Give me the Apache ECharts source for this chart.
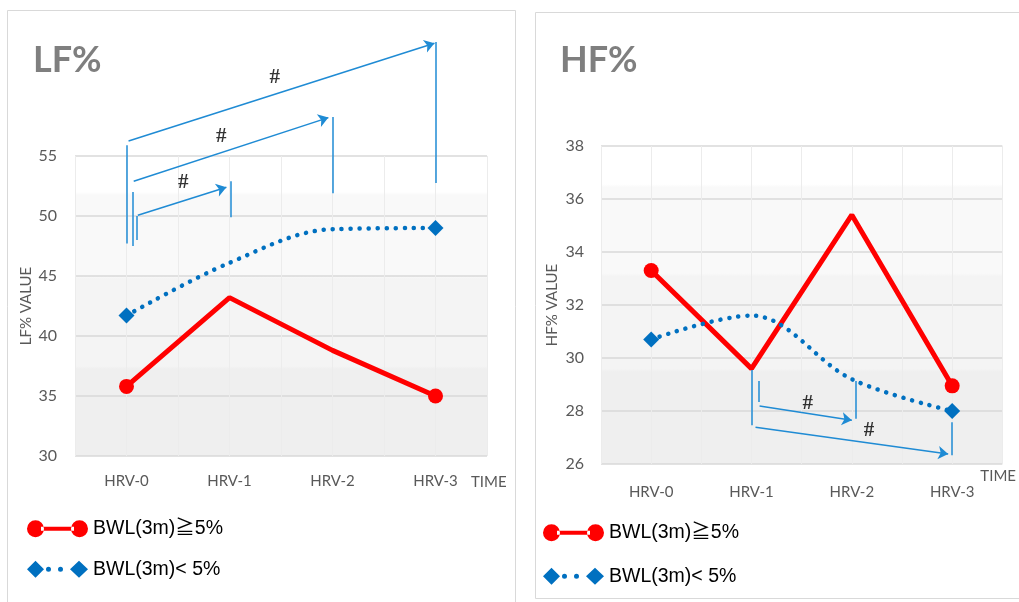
<!DOCTYPE html>
<html>
<head>
<meta charset="utf-8">
<script src="https://cdn.jsdelivr.net/npm/echarts@6/dist/echarts.min.js"></script>
<style>
  html, body { margin: 0; padding: 0; background: #fff; }
  #main { width: 1019px; height: 602px; }
</style>
</head>
<body>
<div id="main"></div>
<script>
var categories = ['HRV-0', 'HRV-1', 'HRV-2', 'HRV-3'];
var seriesNames = ['BWL(3m)≧5%', 'BWL(3m)< 5%'];

// LF% panel
var lfHigh = [35.8, 43.2, 38.8, 35.0];
var lfLow = [41.7, 46.1, 48.9, 49.0];
var lfTicks = [30, 35, 40, 45, 50, 55];

// HF% panel
var hfHigh = [33.3, 29.6, 35.4, 28.95];
var hfLow = [30.7, 31.6, 29.2, 28.0];
var hfTicks = [26, 28, 30, 32, 34, 36, 38];

// markers are only drawn on the first and last visit
var markerIdx = [0, 3];

// significance brackets, in (category index, value) units
var lfBrackets = [
  [[0, 55.9], [0, 47.7]],
  [[0.06, 52.0], [0.06, 47.5]],
  [[0.10, 50.0], [0.10, 48.0]],
  [[1.01, 52.9], [1.01, 49.9]],
  [[2.0, 58.25], [2.0, 51.9]],
  [[3.0, 64.5], [3.0, 52.75]]
];
var lfArrows = [
  [[0.02, 56.25], [2.99, 64.4]],
  [[0.07, 52.9], [1.96, 58.2]],
  [[0.11, 50.06], [0.97, 52.4]]
];
var lfMarks = [[1.44, 61.5], [0.92, 56.6], [0.55, 52.8]];

var hfBrackets = [
  [[1.0, 29.55], [1.0, 27.46]],
  [[1.07, 29.13], [1.07, 28.34]],
  [[2.04, 29.13], [2.04, 27.71]],
  [[3.0, 27.58], [3.0, 26.33]]
];
var hfArrows = [
  [[1.08, 28.19], [2.0, 27.65]],
  [[1.04, 27.39], [2.96, 26.38]]
];
var hfMarks = [[1.56, 28.29], [2.17, 27.28]];

var RED = '#ff0000';
var BLUE = '#0070c0';
var NOTE = '#1f8bd4';
var AXIS_TXT = '#595959';
var FONT = 'Lato, "Noto Sans", sans-serif';

var chart = echarts.init(document.getElementById('main'), null, { renderer: 'canvas' });

function bandBg() {
  return new echarts.graphic.LinearGradient(0, 0, 0, 1, [
    { offset: 0, color: '#ffffff' },
    { offset: 0.12, color: '#ffffff' },
    { offset: 0.13, color: '#f9f9f9' },
    { offset: 0.40, color: '#f9f9f9' },
    { offset: 0.41, color: '#f4f4f4' },
    { offset: 0.70, color: '#f4f4f4' },
    { offset: 0.71, color: '#efefef' },
    { offset: 1, color: '#efefef' }
  ]);
}

function withMarkers(values, symbol) {
  return values.map(function (v, i) {
    return { value: v, symbol: markerIdx.indexOf(i) >= 0 ? symbol : 'none' };
  });
}

// TIME sits below the axis line: an empty first line pushes it down
function catAxis(grid, margin, nameGap, nameLine) {
  return {
    type: 'category',
    gridIndex: grid,
    data: categories,
    boundaryGap: true,
    axisLine: { show: false },
    axisTick: { show: false },
    splitLine: { show: false },
    axisLabel: { margin: margin, fontSize: 15, color: AXIS_TXT, fontFamily: FONT },
    name: '\nTIME',
    nameLocation: 'end',
    nameGap: nameGap,
    nameTextStyle: { fontSize: 15, color: AXIS_TXT, fontFamily: FONT, lineHeight: nameLine }
  };
}

function gridXAxis(grid) {
  // hidden value axis: vertical grid lines every half category, and the
  // coordinate space the annotation arrows are drawn in
  return {
    type: 'value',
    gridIndex: grid,
    min: -0.5,
    max: 3.5,
    interval: 0.5,
    axisLine: { show: false },
    axisTick: { show: false },
    axisLabel: { show: false },
    splitLine: { show: true, lineStyle: { color: '#ececec', width: 1 } }
  };
}

function valAxis(grid, min, max, step, name, margin) {
  return {
    type: 'value',
    gridIndex: grid,
    min: min,
    max: max,
    interval: step,
    axisLine: { show: false },
    axisTick: { show: false },
    axisLabel: { margin: margin, fontSize: 16, color: AXIS_TXT, fontFamily: FONT },
    splitLine: { lineStyle: { color: '#d9d9d9', width: 1.5 } },
    name: name,
    nameLocation: 'middle',
    nameGap: 41,
    nameTextStyle: { fontSize: 15, color: AXIS_TXT, fontFamily: FONT }
  };
}

function lineSeries(name, xi, yi, values, color, dotted) {
  return {
    name: name,
    type: 'line',
    xAxisIndex: xi,
    yAxisIndex: yi,
    data: withMarkers(values, dotted ? 'diamond' : 'circle'),
    smooth: dotted ? 0.35 : false,
    symbolSize: dotted ? 16 : 15,
    itemStyle: { color: color },
    lineStyle: dotted
      ? { color: color, width: 4.5, type: [0.1, 8.9], cap: 'round' }
      : { color: color, width: 5 },
    z: dotted ? 4 : 3,
    animation: false
  };
}

function noteSeries(xi, yi, brackets, arrows, marks) {
  return [
    {
      type: 'lines',
      coordinateSystem: 'cartesian2d',
      xAxisIndex: xi,
      yAxisIndex: yi,
      clip: false,
      symbol: ['none', 'none'],
      lineStyle: { color: NOTE, width: 1.5, opacity: 1 },
      data: brackets.map(function (c) { return { coords: c }; }),
      silent: true,
      animation: false,
      z: 5
    },
    {
      type: 'lines',
      coordinateSystem: 'cartesian2d',
      xAxisIndex: xi,
      yAxisIndex: yi,
      clip: false,
      symbol: ['none', 'arrow'],
      symbolSize: 10,
      lineStyle: { color: NOTE, width: 1.5, opacity: 1 },
      data: arrows.map(function (c) { return { coords: c }; }),
      silent: true,
      animation: false,
      z: 5
    },
    {
      type: 'scatter',
      xAxisIndex: xi,
      yAxisIndex: yi,
      clip: false,
      symbolSize: 1,
      itemStyle: { color: 'rgba(0,0,0,0)' },
      label: {
        show: true,
        position: 'inside',
        formatter: '#',
        color: '#000',
        fontSize: 21,
        fontWeight: 'bold',
        fontFamily: '"Liberation Serif", serif'
      },
      data: marks,
      silent: true,
      animation: false,
      z: 6
    }
  ];
}

var redIcon = 'path://M0,8.5 a8.5,8.5 0 1,0 17,0 a8.5,8.5 0 1,0 -17,0 Z M14,6.5 L47,6.5 L47,10.5 L14,10.5 Z M44,8.5 a8.5,8.5 0 1,0 17,0 a8.5,8.5 0 1,0 -17,0 Z';
var blueIcon = 'path://M0,8.5 L8.5,0 L17,8.5 L8.5,17 Z M19,8.5 a2.5,2.5 0 1,0 5,0 a2.5,2.5 0 1,0 -5,0 Z M31,8.5 a2.5,2.5 0 1,0 5,0 a2.5,2.5 0 1,0 -5,0 Z M43,8.5 L52,0 L61,8.5 L52,17 Z';

function legendAt(left, top, gap) {
  return {
    orient: 'vertical',
    left: left,
    top: top,
    padding: 0,
    itemGap: gap,
    itemWidth: 61,
    itemHeight: 17,
    selectedMode: false,
    itemStyle: { borderWidth: 0 },
    textStyle: { fontSize: 19.5, color: '#000', fontFamily: '"Liberation Sans", "Noto Sans CJK JP", sans-serif' },
    data: [
      { name: seriesNames[0], icon: redIcon },
      { name: seriesNames[1], icon: blueIcon }
    ]
  };
}

var option = {
  backgroundColor: '#fff',
  animation: false,
  title: [
    { text: 'LF%', left: 28, top: 37, textStyle: { fontSize: 36, fontWeight: 'bold', color: '#7f7f7f', fontFamily: FONT } },
    { text: 'HF%', left: 555, top: 37, textStyle: { fontSize: 36, fontWeight: 'bold', color: '#7f7f7f', fontFamily: FONT } }
  ],
  graphic: [
    { type: 'rect', shape: { x: 7.5, y: 10.5, width: 508, height: 600 }, style: { fill: 'none', stroke: '#d9d9d9', lineWidth: 1 }, silent: true, z: -10 },
    { type: 'rect', shape: { x: 535.5, y: 12.5, width: 500, height: 586 }, style: { fill: 'none', stroke: '#d9d9d9', lineWidth: 1 }, silent: true, z: -10 }
  ],
  grid: [
    { left: 75, top: 156, width: 412, height: 300, show: true, borderWidth: 0, backgroundColor: bandBg() },
    { left: 601, top: 146, width: 406, height: 318, show: true, borderWidth: 0, backgroundColor: bandBg() }
  ],
  legend: [legendAt(27, 519, 21), legendAt(543, 523, 24)],
  xAxis: [
    catAxis(0, 18, -16, 52),
    gridXAxis(0),
    catAxis(1, 21, -22, 24),
    gridXAxis(1)
  ],
  yAxis: [
    valAxis(0, lfTicks[0], lfTicks[lfTicks.length - 1], lfTicks[1] - lfTicks[0], 'LF% VALUE', 18),
    valAxis(1, hfTicks[0], hfTicks[hfTicks.length - 1], hfTicks[1] - hfTicks[0], 'HF% VALUE', 17)
  ],
  series: [
    lineSeries(seriesNames[0], 0, 0, lfHigh, RED, false),
    lineSeries(seriesNames[1], 0, 0, lfLow, BLUE, true),
    lineSeries(seriesNames[0], 2, 1, hfHigh, RED, false),
    lineSeries(seriesNames[1], 2, 1, hfLow, BLUE, true)
  ]
    .concat(noteSeries(1, 0, lfBrackets, lfArrows, lfMarks))
    .concat(noteSeries(3, 1, hfBrackets, hfArrows, hfMarks))
};

chart.setOption(option);
window.addEventListener('resize', chart.resize);
</script>
</body>
</html>
